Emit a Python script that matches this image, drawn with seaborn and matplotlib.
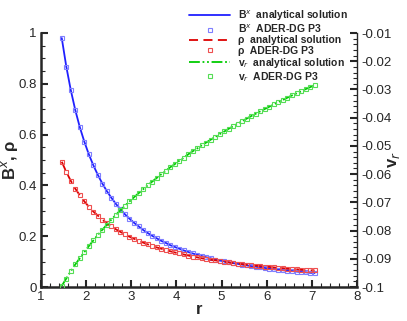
import seaborn as sns
import matplotlib.pyplot as plt
from matplotlib.ticker import MultipleLocator

# radius values
r = [1.46, 1.56, 1.66, 1.76, 1.86, 1.96, 2.06, 2.16, 2.26, 2.36,
     2.46, 2.56, 2.66, 2.76, 2.86, 2.96, 3.06, 3.16, 3.26, 3.36,
     3.46, 3.56, 3.66, 3.76, 3.86, 3.96, 4.06, 4.16, 4.26, 4.36,
     4.46, 4.56, 4.66, 4.76, 4.86, 4.96, 5.06, 5.16, 5.26, 5.36,
     5.46, 5.56, 5.66, 5.76, 5.86, 5.96, 6.06, 6.16, 6.26, 6.36,
     6.46, 6.56, 6.66, 6.76, 6.86, 6.96, 7.06]

bx = [0.980, 0.868, 0.775, 0.696, 0.629, 0.572, 0.522, 0.479, 0.441, 0.407,
      0.377, 0.351, 0.327, 0.306, 0.286, 0.269, 0.253, 0.239, 0.225, 0.213,
      0.202, 0.192, 0.182, 0.174, 0.165, 0.158, 0.151, 0.144, 0.138, 0.132,
      0.127, 0.122, 0.117, 0.113, 0.108, 0.104, 0.101, 0.097, 0.094, 0.091,
      0.088, 0.085, 0.082, 0.080, 0.077, 0.075, 0.072, 0.070, 0.068, 0.066,
      0.064, 0.063, 0.061, 0.059, 0.058, 0.056, 0.055]

rho = [0.493, 0.453, 0.418, 0.387, 0.361, 0.337, 0.316, 0.297, 0.281, 0.265,
       0.251, 0.239, 0.227, 0.217, 0.207, 0.198, 0.190, 0.182, 0.175, 0.168,
       0.162, 0.156, 0.151, 0.145, 0.141, 0.136, 0.132, 0.128, 0.124, 0.120,
       0.117, 0.113, 0.110, 0.107, 0.105, 0.102, 0.099, 0.097, 0.094, 0.092,
       0.090, 0.088, 0.086, 0.084, 0.082, 0.080, 0.079, 0.077, 0.075, 0.074,
       0.072, 0.071, 0.070, 0.068, 0.067, 0.066, 0.065]

vr = [-0.0996, -0.0970, -0.0944, -0.0920, -0.0898, -0.0876, -0.0855, -0.0835, -0.0815, -0.0797,
      -0.0779, -0.0761, -0.0744, -0.0728, -0.0712, -0.0697, -0.0682, -0.0668, -0.0654, -0.0640,
      -0.0627, -0.0614, -0.0601, -0.0589, -0.0576, -0.0565, -0.0553, -0.0542, -0.0530, -0.0519,
      -0.0509, -0.0498, -0.0488, -0.0478, -0.0468, -0.0458, -0.0449, -0.0439, -0.0430, -0.0421,
      -0.0412, -0.0403, -0.0394, -0.0386, -0.0377, -0.0369, -0.0361, -0.0353, -0.0345, -0.0337,
      -0.0329, -0.0321, -0.0314, -0.0307, -0.0299, -0.0292, -0.0285]

sns.set_style("ticks")
plt.rcParams['font.family'] = ['Liberation Sans', 'DejaVu Sans']

fig = plt.figure(figsize=(4.07, 3.21), dpi=100)
ax = fig.add_axes([41/407, 1 - 287/321, (357 - 41)/407, (287 - 33)/321])
ax2 = ax.twinx()

blue, red, green = "#2020ff", "#dd0000", "#00cc00"
mblue, mred, mgreen = "#7f7fff", "#ee5050", "#55dd55"
msize = 2.7

sns.lineplot(x=r, y=bx, ax=ax, color=blue, lw=1.3, estimator=None,
             label="B$^x$  analytical solution")
sns.lineplot(x=r, y=bx, ax=ax, color=mblue, marker="s", ms=msize, mfc="none",
             mec=mblue, mew=0.8, linestyle="none", estimator=None,
             label="B$^x$  ADER-DG P3")
sns.lineplot(x=r, y=rho, ax=ax, color=red, lw=1.3, dashes=(5, 3), estimator=None,
             label="ρ  analytical solution")
sns.lineplot(x=r, y=rho, ax=ax, color=mred, marker="s", ms=msize, mfc="none",
             mec=mred, mew=0.8, linestyle="none", estimator=None,
             label="ρ  ADER-DG P3")
sns.lineplot(x=r, y=vr, ax=ax2, color=green, lw=1.3,
             dashes=(6, 1.5, 1, 1.5, 1, 1.5), estimator=None,
             label="v$_r$  analytical solution")
sns.lineplot(x=r, y=vr, ax=ax2, color=mgreen, marker="s", ms=msize, mfc="none",
             mec=mgreen, mew=0.8, linestyle="none", estimator=None,
             label="v$_r$  ADER-DG P3")

ax.set_xlim(1, 8)
ax.set_ylim(0, 1)
ax2.set_ylim(-0.1, -0.01)

ax.xaxis.set_major_locator(MultipleLocator(1))
ax.xaxis.set_minor_locator(MultipleLocator(0.2))
ax.yaxis.set_major_locator(MultipleLocator(0.2))
ax.yaxis.set_minor_locator(MultipleLocator(0.05))
ax2.yaxis.set_major_locator(MultipleLocator(0.01))
ax2.yaxis.set_minor_locator(MultipleLocator(0.002))
ax.yaxis.set_major_formatter(plt.FuncFormatter(lambda v, p: f"{v:g}"))
ax2.yaxis.set_major_formatter(plt.FuncFormatter(lambda v, p: f"{v:g}"))

for a in (ax, ax2):
    a.spines['top'].set_visible(False)
    a.tick_params(which='major', direction='in', length=5, width=1.5, labelsize=9.5, pad=3)
    a.tick_params(which='minor', direction='in', length=3, width=0.8)
ax.spines['left'].set_linewidth(1.8)
ax.spines['bottom'].set_linewidth(1.8)
ax.spines['right'].set_visible(False)
ax2.spines['left'].set_visible(False)
ax2.spines['bottom'].set_visible(False)
ax2.spines['right'].set_linewidth(1.0)

ax.set_xlabel("r", fontsize=12, fontweight='bold', labelpad=-1)
ax.set_ylabel("B$^x$, ρ", fontsize=12, fontweight='bold')
ax2.set_ylabel("v$_r$", fontsize=12, fontweight='bold')
ax.yaxis.set_label_coords(-0.065, 0.5)
ax2.yaxis.set_label_coords(1.093, 0.5)

h1, l1 = ax.get_legend_handles_labels()
h2, l2 = ax2.get_legend_handles_labels()
ax.get_legend().remove()
ax2.get_legend().remove()
leg = fig.legend(h1 + h2, l1 + l2, loc='upper left', bbox_to_anchor=(184/407, 1 - 3/321),
                 frameon=False, borderpad=0, labelspacing=0.02,
                 handlelength=3.9, handletextpad=0.8, prop={'weight': 'bold', 'size': 7.5})

fig.savefig("out.png", dpi=100)
